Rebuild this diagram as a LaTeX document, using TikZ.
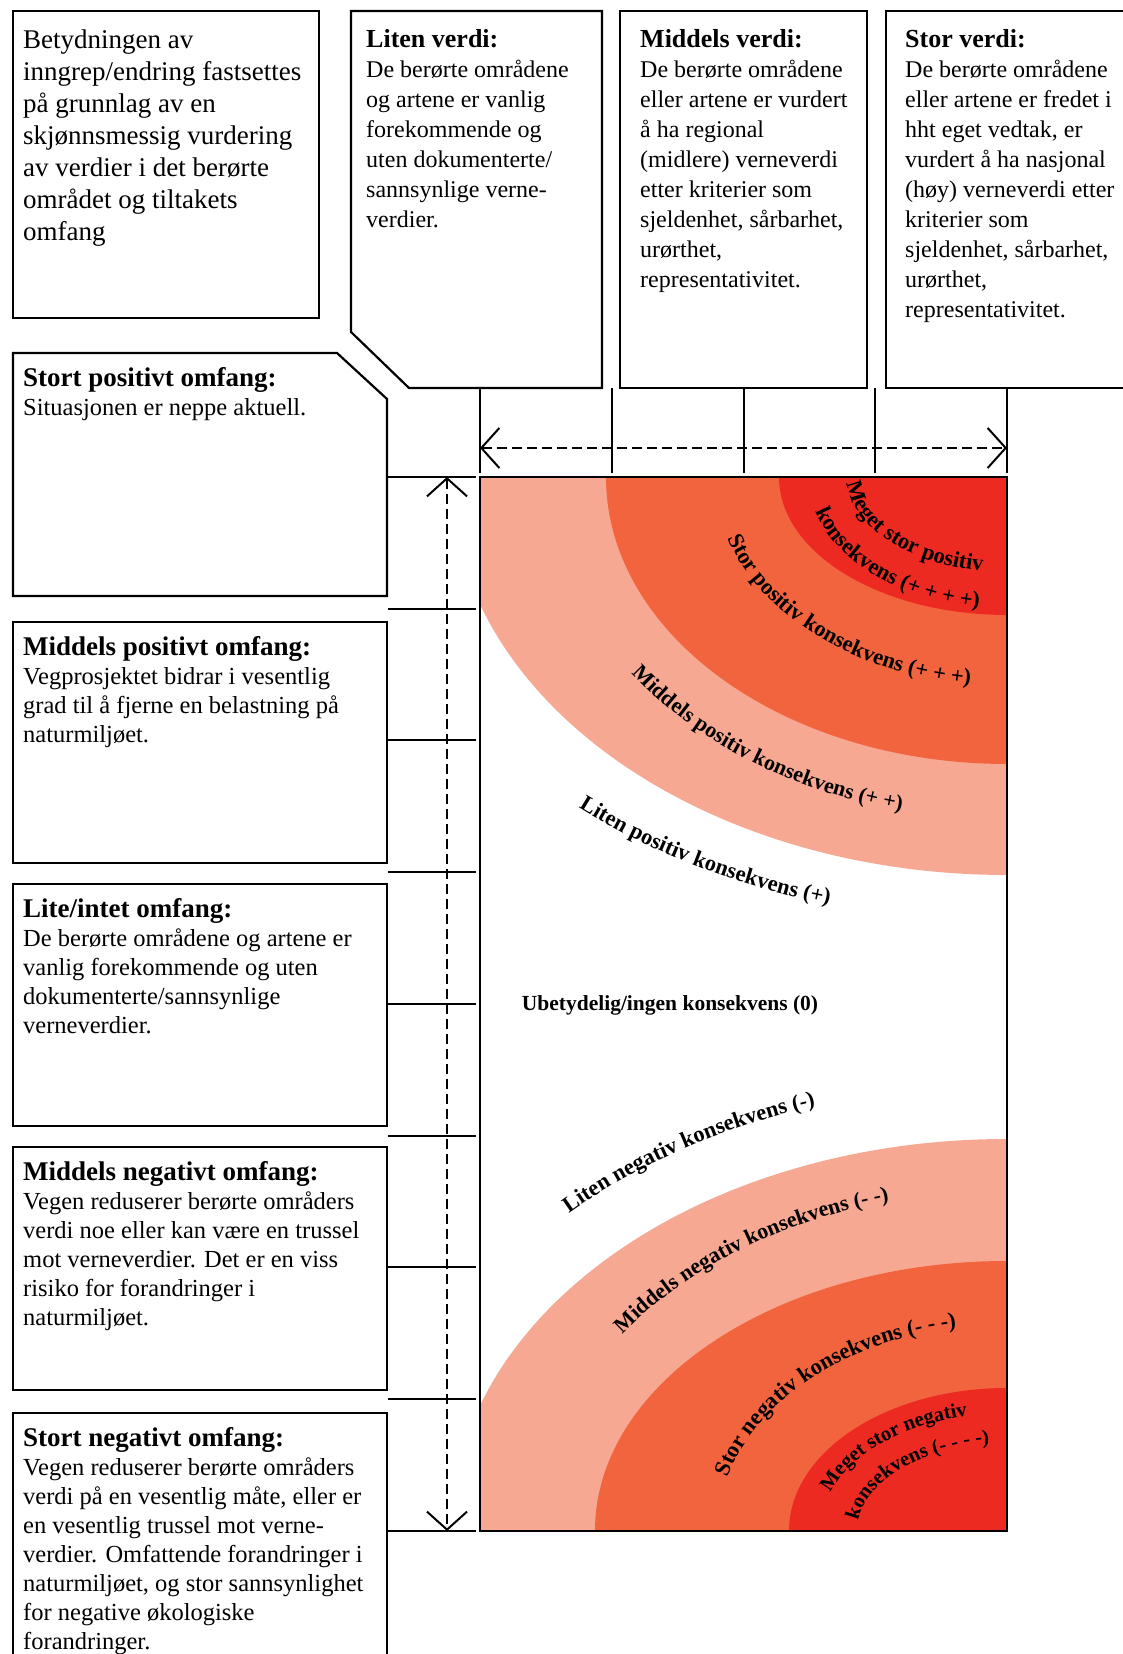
\documentclass[tikz,border=0pt]{standalone}
\usepackage{fontspec}
\setmainfont{Liberation Serif}
\usetikzlibrary{arrows.meta,decorations.text,calc}
\definecolor{salmonc}{RGB}{246,168,146}
\definecolor{orngc}{RGB}{242,100,62}
\definecolor{redc}{RGB}{236,42,34}
\newcommand\ringfont{\bfseries\fontsize{22.5}{22.5}\selectfont}
\newcommand\ringfontmd{\bfseries\fontsize{22}{22}\selectfont}
\newcommand\ringfontin{\bfseries\fontsize{22.5}{22.5}\selectfont}
\newcommand\ringfontsm{\bfseries\fontsize{20.5}{20.5}\selectfont}
\begin{document}
\begin{tikzpicture}[x=1pt,y=1pt,
  box/.style={draw=black,line width=2.2pt},
  boxtext/.style={anchor=north west,inner sep=0pt,align=left},
  topfont/.style={font=\fontsize{24}{30}\selectfont},
  leftfont/.style={font=\fontsize{24.5}{29}\selectfont},
  tick/.style={line width=2pt},
  dim/.style={line width=2pt,dash pattern=on 10pt off 5pt,
    {Straight Barb[length=18pt,width=40pt]}-{Straight Barb[length=18pt,width=40pt]}},
  ring/.style={decorate,decoration={text along path,text align=left}}]
\useasboundingbox (0,0) rectangle (1123,1654);
\clip (0,0) rectangle (1123,1654);
\fill[white] (0,0) rectangle (1123,1654);

% ---------- top boxes ----------
\draw[box] (13,1336) rectangle (319,1643);
\node[boxtext,font=\fontsize{27}{32}\selectfont] (t0) at (23,1624)
 {Betydningen av\\inngrep/endring fastsettes\\på grunnlag av en\\skjønnsmessig vurdering\\av verdier i det berørte\\området og tiltakets\\omfang};

\draw[box] (351,1643) -- (602,1643) -- (602,1266) -- (409,1266) -- (351,1322) -- cycle;
\node[boxtext,topfont] (t1) at (366,1625)
 {{\bfseries\fontsize{26}{30}\selectfont Liten verdi:}\\De berørte områdene\\og artene er vanlig\\forekommende og\\uten dokumenterte/\\sannsynlige verne-\\verdier.};

\draw[box] (620,1266) rectangle (867,1643);
\node[boxtext,topfont] (t2) at (640,1625)
 {{\bfseries\fontsize{26}{30}\selectfont Middels verdi:}\\De berørte områdene\\eller artene er vurdert\\å ha regional\\(midlere) verneverdi\\etter kriterier som\\sjeldenhet, sårbarhet,\\urørthet,\\representativitet.};

\draw[box] (1140,1643) -- (886,1643) -- (886,1266) -- (1140,1266);
\node[boxtext,topfont] (t3) at (905,1625)
 {{\bfseries\fontsize{26}{30}\selectfont Stor verdi:}\\De berørte områdene\\eller artene er fredet i\\hht eget vedtak, er\\vurdert å ha nasjonal\\(høy) verneverdi etter\\kriterier som\\sjeldenhet, sårbarhet,\\urørthet,\\representativitet.};

% ---------- left boxes ----------
\draw[box] (13,1301) -- (337,1301) -- (387,1255) -- (387,1058) -- (13,1058) -- cycle;
\node[boxtext,leftfont] (l1) at (23,1286.7)
 {{\bfseries\fontsize{27}{29}\selectfont Stort positivt omfang:}\\Situasjonen er neppe aktuell.};

\draw[box] (13,791) rectangle (387,1032);
\node[boxtext,leftfont] (l2) at (23,1017.7)
 {{\bfseries\fontsize{27}{29}\selectfont Middels positivt omfang:}\\Vegprosjektet bidrar i vesentlig\\grad til å fjerne en belastning på\\naturmiljøet.};

\draw[box] (13,528) rectangle (387,770);
\node[boxtext,leftfont] (l3) at (23,755.7)
 {{\bfseries\fontsize{27}{29}\selectfont Lite/intet omfang:}\\De berørte områdene og artene er\\vanlig forekommende og uten\\dokumenterte/sannsynlige\\verneverdier.};

\draw[box] (13,264) rectangle (387,507);
\node[boxtext,leftfont] (l4) at (23,492.7)
 {{\bfseries\fontsize{27}{29}\selectfont Middels negativt omfang:}\\Vegen reduserer berørte områders\\verdi noe eller kan være en trussel\\mot verneverdier. Det er en viss\\risiko for forandringer i\\naturmiljøet.};

\draw[box] (13,-20) -- (13,241) -- (387,241) -- (387,-20);
\node[boxtext,leftfont] (l5) at (23,226.7)
 {{\bfseries\fontsize{27}{29}\selectfont Stort negativt omfang:}\\Vegen reduserer berørte områders\\verdi på en vesentlig måte, eller er\\en vesentlig trussel mot verne-\\verdier. Omfattende forandringer i\\naturmiljøet, og stor sannsynlighet\\for negative økologiske\\forandringer.};

% ---------- matrix ----------
\coordinate (Ct) at (1007,1177);
\coordinate (Cb) at (1007,123);
\begin{scope}
\clip (480,123) rectangle (1007,1177);
\fill[salmonc] (Ct) ellipse [x radius=556,y radius=398];
\fill[orngc] (Ct) ellipse [x radius=401,y radius=287];
\fill[redc] (Ct) ellipse [x radius=228,y radius=138];
\fill[salmonc] (Cb) ellipse [x radius=556,y radius=392];
\fill[orngc] (Cb) ellipse [x radius=412,y radius=270];
\fill[redc] (Cb) ellipse [x radius=218,y radius=143];
\end{scope}
\draw[box] (480,123) rectangle (1007,1177);

% ring labels top
\path[ring,decoration={text={|\ringfont|Liten positiv konsekvens (+)}}]
  ($(Ct)+(228:640 and 445)$) arc[start angle=228,end angle=290,x radius=640,y radius=445];
\path[ring,decoration={text={|\ringfontmd|Middels positiv konsekvens (+ +)}}]
  ($(Ct)+(215:458 and 343)$) arc[start angle=215,end angle=290,x radius=458,y radius=343];
\path[ring,decoration={text={|\ringfontin|Stor positiv konsekvens (+ + +)}}]
  ($(Ct)+(197:292 and 209)$) arc[start angle=197,end angle=300,x radius=292,y radius=209];
\path[ring,decoration={text={|\ringfontin|Meget stor positiv}}]
  ($(Ct)+(184:160 and 95)$) arc[start angle=184,end angle=300,x radius=160,y radius=95];
\path[ring,decoration={text={|\ringfontin|konsekvens (+ + + +)}}]
  ($(Ct)+(195:198 and 132)$) arc[start angle=195,end angle=300,x radius=198,y radius=132];

% centre label
\node[font=\bfseries\fontsize{21.5}{21.5}\selectfont,anchor=base,inner sep=0pt] (ub) at (670,643)
 {Ubetydelig/ingen konsekvens (0)};

% ring labels bottom
\path[ring,decoration={text={|\ringfont|Liten negativ konsekvens (-)}}]
  ($(Cb)+(134.7:623 and 447)$) arc[start angle=134.7,end angle=70,x radius=623,y radius=447];
\path[ring,decoration={text={|\ringfontmd|Middels negativ konsekvens (- -)}}]
  ($(Cb)+(144.8:471 and 341)$) arc[start angle=144.8,end angle=70,x radius=471,y radius=341];
\path[ring,decoration={text={|\ringfontin|Stor negativ konsekvens (- - -)}}]
  ($(Cb)+(165:289 and 207)$) arc[start angle=165,end angle=60,x radius=289,y radius=207];
\path[ring,decoration={text={|\ringfontsm|Meget stor negativ}}]
  ($(Cb)+(161:187 and 118)$) arc[start angle=161,end angle=60,x radius=187,y radius=118];
\path[ring,decoration={text={|\ringfontsm|konsekvens (- - - -)}}]
  ($(Cb)+(173:150 and 88)$) arc[start angle=173,end angle=60,x radius=150,y radius=88];

% ---------- ticks ----------
\foreach \x in {480,611.75,743.5,875.25,1007}
  \draw[tick] (\x,1266) -- (\x,1181);
\foreach \k in {0,...,8}{
  \pgfmathsetmacro\yy{1177-131.75*\k}
  \draw[tick] (388,\yy) -- (476,\yy);
}

% ---------- dimension arrows ----------
\coordinate (hL) at (480,1206);
\coordinate (hR) at (1007,1206);
\draw[dim] (hL) -- (hR);
\coordinate (vT) at (447,1177);
\coordinate (vB) at (447,123);
\draw[dim] (vT) -- (vB);
\end{tikzpicture}
\end{document}
